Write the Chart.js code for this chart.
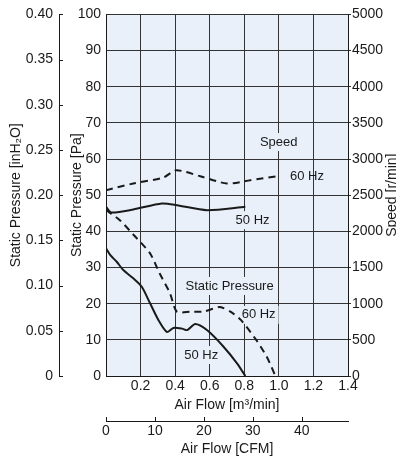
<!DOCTYPE html>
<html>
<head>
<meta charset="utf-8">
<script src="https://cdn.jsdelivr.net/npm/chart.js@4"></script>
<style>
  html, body { margin: 0; padding: 0; background: #fff; }
  canvas { display: block; }
</style>
</head>
<body>
<canvas id="fanChart" width="396" height="458"></canvas>
<script>
// dados (vazao em m3/min)
const flowStatic60 = [0, 0.08, 0.16, 0.255, 0.31, 0.37, 0.41, 0.49, 0.56, 0.62, 0.66, 0.72, 0.78, 0.87, 0.93, 0.98];
const pressure60 = [45.9, 43.1, 39, 33.9, 28.4, 22.9, 17.8, 17.8, 17.8, 18.6, 19.1, 17.8, 15.5, 9.9, 5.3, 0];

const flowStatic50 = [0, 0.025, 0.062, 0.1, 0.158, 0.207, 0.255, 0.303, 0.352, 0.39, 0.44, 0.47, 0.516, 0.584, 0.68, 0.758, 0.806];
const pressure50 = [35.3, 33.4, 31.6, 29.3, 27, 24.7, 20.1, 15.5, 12.2, 13.3, 13.1, 12.7, 14.4, 12.7, 8.1, 3.5, 0];

const flowSpeed60 = [0, 0.158, 0.332, 0.406, 0.545, 0.70, 0.835, 0.99];
const speed60 = [2569, 2662, 2744, 2845, 2762, 2662, 2707, 2762];

const flowSpeed50 = [0, 0.03, 0.158, 0.323, 0.41, 0.584, 0.806];
const speed50 = [2340, 2260, 2302, 2385, 2362, 2293, 2339];

// rotulos do eixo em CFM
const cfmTicks = [0, 10, 20, 30, 40];

// textos dentro do grafico (posicao em unidades de dados: m3/min, Pa)
const noteText = ['Speed', '60 Hz', '50 Hz', 'Static Pressure', '60 Hz', '50 Hz'];
const noteFlow = [0.999, 1.163, 0.848, 0.715, 0.883, 0.551];
const noteValue = [64.7, 55.1, 43.1, 24.9, 16.9, 5.8];
const noteBox = [true, false, true, true, true, true];

const CFM_PER_M3MIN = 35.315;
const FONT = '"Liberation Sans Narrow", "Arial Narrow", "Liberation Sans", sans-serif';
const INK = '#1a1a1a';

function toPoints(xs, ys) {
    return xs.map((x, i) => ({ x: x, y: ys[i] }));
}

const extras = {
    id: 'extras',
    beforeDraw(chart) {
        const { ctx, chartArea: a } = chart;
        ctx.save();
        ctx.fillStyle = '#e9f0fa';
        ctx.fillRect(a.left, a.top, a.right - a.left, a.bottom - a.top);
        ctx.restore();
    },
    beforeDatasetsDraw(chart) {
        const { ctx } = chart;
        const xs = chart.scales.x, ys = chart.scales.y;
        ctx.save();
        ctx.font = '13px ' + FONT;
        ctx.textAlign = 'center';
        ctx.textBaseline = 'middle';
        noteText.forEach((t, i) => {
            const px = xs.getPixelForValue(noteFlow[i]);
            const py = ys.getPixelForValue(noteValue[i]);
            if (noteBox[i]) {
                const w = ctx.measureText(t).width + 6;
                ctx.fillStyle = '#e9f0fa';
                ctx.fillRect(px - w / 2, py - 9, w, 18);
            }
            ctx.fillStyle = INK;
            ctx.fillText(t, px, py);
        });
        ctx.restore();
    },
    afterDraw(chart) {
        const { ctx, chartArea: a } = chart;
        ctx.save();
        ctx.strokeStyle = INK;
        ctx.lineWidth = 1;

        // marcas para dentro no eixo inH2O
        const yIn = chart.scales.yIn;
        yIn.ticks.forEach(t => {
            const py = Math.round(yIn.getPixelForValue(t.value)) + 0.5;
            ctx.beginPath();
            ctx.moveTo(yIn.right, py);
            ctx.lineTo(yIn.right + 4, py);
            ctx.stroke();
        });

        // marcas para cima no eixo CFM
        const x2 = chart.scales.x2;
        x2.ticks.forEach(t => {
            const px = Math.round(x2.getPixelForValue(t.value)) + 0.5;
            ctx.beginPath();
            ctx.moveTo(px, x2.top);
            ctx.lineTo(px, x2.top - 4);
            ctx.stroke();
        });

        // titulo do eixo de rotacao
        ctx.translate(392, (a.top + a.bottom) / 2);
        ctx.rotate(-Math.PI / 2);
        ctx.font = '14px ' + FONT;
        ctx.fillStyle = INK;
        ctx.textAlign = 'center';
        ctx.textBaseline = 'middle';
        ctx.fillText('Speed [r/min]', 0, 0);
        ctx.restore();
    }
};

const tickFont = { family: FONT, size: 14 };
const titleFont = { family: FONT, size: 14 };
const gridColor = '#333333';

const ctx = document.getElementById('fanChart').getContext('2d');
const myChart = new Chart(ctx, {
    type: 'line',
    data: {
        datasets: [
            {
                label: 'Static Pressure 60 Hz',
                data: toPoints(flowStatic60, pressure60),
                yAxisID: 'y',
                borderDash: [7, 5]
            },
            {
                label: 'Static Pressure 50 Hz',
                data: toPoints(flowStatic50, pressure50),
                yAxisID: 'y'
            },
            {
                label: 'Speed 60 Hz',
                data: toPoints(flowSpeed60, speed60),
                yAxisID: 'speed',
                borderDash: [7, 5]
            },
            {
                label: 'Speed 50 Hz',
                data: toPoints(flowSpeed50, speed50),
                yAxisID: 'speed'
            }
        ]
    },
    options: {
        responsive: false,
        animation: false,
        devicePixelRatio: 1,
        layout: { padding: { top: 14, left: 0, right: 0, bottom: 0 } },
        elements: {
            line: { borderColor: INK, borderWidth: 2, tension: 0.25, fill: false },
            point: { radius: 0 }
        },
        plugins: {
            legend: { display: false },
            tooltip: { enabled: false }
        },
        scales: {
            x: {
                type: 'linear',
                position: 'bottom',
                weight: 0,
                min: 0,
                max: 1.4,
                afterFit: s => { s.height = 45; },
                ticks: {
                    stepSize: 0.2,
                    maxRotation: 0,
                    autoSkip: false,
                    padding: 2,
                    color: INK,
                    font: tickFont,
                    callback: v => (v === 0 ? '' : v.toFixed(1))
                },
                grid: { color: gridColor, drawTicks: false },
                border: { color: INK },
                title: {
                    display: true,
                    text: 'Air Flow [m³/min]',
                    color: INK,
                    font: titleFont,
                    padding: { top: 0, bottom: 7 }
                }
            },
            x2: {
                type: 'linear',
                position: 'bottom',
                weight: 1,
                min: 0,
                max: 1.4 * CFM_PER_M3MIN,
                afterFit: s => { s.height = 37; },
                afterBuildTicks: s => { s.ticks = cfmTicks.map(v => ({ value: v })); },
                ticks: {
                    maxRotation: 0,
                    autoSkip: false,
                    padding: 2,
                    color: INK,
                    font: tickFont,
                    callback: v => String(v)
                },
                grid: { drawOnChartArea: false, drawTicks: false },
                border: { color: INK },
                title: {
                    display: true,
                    text: 'Air Flow [CFM]',
                    color: INK,
                    font: titleFont,
                    padding: { top: 0, bottom: 0 }
                }
            },
            y: {
                type: 'linear',
                position: 'left',
                weight: 0,
                min: 0,
                max: 100,
                afterFit: s => { s.width = 47; },
                ticks: { stepSize: 10, padding: 5, color: INK, font: tickFont },
                grid: { color: gridColor, drawTicks: false },
                border: { color: INK },
                title: {
                    display: true,
                    text: 'Static Pressure [Pa]',
                    color: INK,
                    font: titleFont,
                    padding: { top: 10, bottom: 0 }
                }
            },
            yIn: {
                type: 'linear',
                position: 'left',
                weight: 1,
                min: 0,
                max: 0.4,
                afterFit: s => { s.width = 59; },
                ticks: {
                    stepSize: 0.05,
                    padding: 6,
                    color: INK,
                    font: tickFont,
                    callback: v => (v === 0 ? '0' : v.toFixed(2))
                },
                grid: { drawOnChartArea: false, drawTicks: false },
                border: { color: INK },
                title: {
                    display: true,
                    text: 'Static Pressure [inH₂O]',
                    color: INK,
                    font: titleFont,
                    padding: { top: 8, bottom: 0 }
                }
            },
            speed: {
                type: 'linear',
                position: 'right',
                min: 0,
                max: 5000,
                afterFit: s => { s.width = 48; },
                ticks: {
                    stepSize: 500,
                    padding: 1,
                    color: INK,
                    font: tickFont,
                    callback: v => String(v)
                },
                grid: { drawOnChartArea: false, drawTicks: true, tickLength: 3, color: gridColor },
                border: { color: INK }
            }
        }
    },
    plugins: [extras]
});
</script>
</body>
</html>
